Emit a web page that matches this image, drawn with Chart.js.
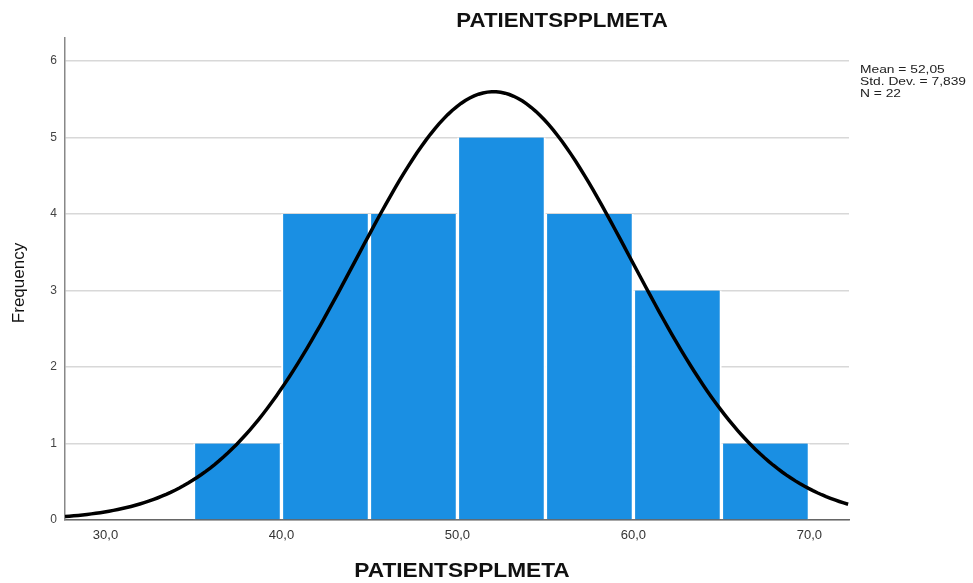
<!DOCTYPE html>
<html>
<head>
<meta charset="utf-8">
<script src="https://cdn.jsdelivr.net/npm/chart.js@4/dist/chart.umd.min.js"></script>
<style>
  html, body { margin: 0; padding: 0; background: #fff; }
  #wrap { width: 973px; height: 583px; position: relative; }
</style>
</head>
<body>
<div id="wrap"><canvas id="hist" width="973" height="583"></canvas></div>
<script>
// Histogram bins (lower edge .. upper edge) and their counts
const binStarts = [35, 40, 45, 50, 55, 60, 65];
const binWidth = 5;
const frequencies = [1, 4, 4, 5, 4, 3, 1];

// Summary statistics shown beside the plot
const meanVal = 52.05;
const sdVal = 7.839;
const nVal = 22;

// Axis settings
const xTicks = [30, 40, 50, 60, 70];
const xMin = 27.7;
const xMax = 72.25;
const yMax = 6.3;

const varName = 'PATIENTSPPLMETA';
const yTitle = 'Frequency';

const fmt = (v, d) => v.toFixed(d).replace('.', ',');

// Bars placed at bin centres on a linear axis
const barPoints = binStarts.map((s, i) => ({ x: s + binWidth / 2, y: frequencies[i] }));

// Fitted normal curve scaled to counts: N * binWidth * pdf(x)
const curvePoints = [];
for (let x = xMin; x <= xMax + 1e-9; x += 0.25) {
  const z = (x - meanVal) / sdVal;
  const pdf = Math.exp(-0.5 * z * z) / (sdVal * Math.sqrt(2 * Math.PI));
  curvePoints.push({ x: x, y: nVal * binWidth * pdf });
}

// Stretched text helper for the titles and the statistics block
function drawText(ctx, text, x, y, font, color, align, sx) {
  ctx.save();
  ctx.font = font;
  ctx.fillStyle = color;
  ctx.textBaseline = 'alphabetic';
  const w = ctx.measureText(text).width * sx;
  let left = x;
  if (align === 'center') left = x - w / 2;
  ctx.translate(left, y);
  ctx.scale(sx, 1);
  ctx.textAlign = 'left';
  ctx.fillText(text, 0, 0);
  ctx.restore();
}

const annotations = {
  id: 'annotations',
  afterDraw(chart) {
    const ctx = chart.ctx;
    drawText(ctx, varName, 562, 27, 'bold 21px Arial, "Liberation Sans", sans-serif', '#111', 'center', 1.06);
    drawText(ctx, varName, 462, 577, 'bold 21px Arial, "Liberation Sans", sans-serif', '#111', 'center', 1.08);

    ctx.save();
    ctx.translate(24, 283);
    ctx.rotate(-Math.PI / 2);
    ctx.font = '17px Arial, "Liberation Sans", sans-serif';
    ctx.fillStyle = '#111';
    ctx.textAlign = 'center';
    ctx.textBaseline = 'alphabetic';
    ctx.fillText(yTitle, 0, 0);
    ctx.restore();

    const stats = [
      'Mean = ' + fmt(meanVal, 2),
      'Std. Dev. = ' + fmt(sdVal, 3),
      'N = ' + nVal
    ];
    stats.forEach((t, i) => {
      drawText(ctx, t, 860, 73 + i * 12, '11.5px Arial, "Liberation Sans", sans-serif', '#222', 'left', 1.2);
    });
  }
};

new Chart(document.getElementById('hist'), {
  type: 'bar',
  data: {
    datasets: [
      {
        type: 'line',
        data: curvePoints,
        borderColor: '#000',
        borderWidth: 3.5,
        pointRadius: 0,
        fill: false,
        order: 0
      },
      {
        type: 'bar',
        data: barPoints,
        backgroundColor: '#1a8fe3',
        borderColor: '#ffffff',
        borderWidth: { left: 2, right: 2, top: 0, bottom: 0 },
        borderSkipped: false,
        categoryPercentage: 1,
        barPercentage: 1,
        order: 1
      }
    ]
  },
  options: {
    responsive: false,
    animation: false,
    layout: { padding: { top: 38, right: 124, left: 0, bottom: 0 } },
    plugins: {
      legend: { display: false },
      tooltip: { enabled: false },
      title: { display: false }
    },
    scales: {
      x: {
        type: 'linear',
        min: xMin,
        max: xMax,
        offset: false,
        afterBuildTicks: (scale) => { scale.ticks = xTicks.map(v => ({ value: v })); },
        afterFit: (scale) => { scale.height = 63; },
        grid: { display: false, drawTicks: false },
        border: { display: true, color: '#666', width: 1.5 },
        ticks: {
          padding: 8,
          maxRotation: 0,
          autoSkip: false,
          color: '#333',
          font: { family: 'Arial, "Liberation Sans", sans-serif', size: 13 },
          callback: (v) => fmt(v, 1)
        }
      },
      y: {
        min: 0,
        max: yMax,
        afterBuildTicks: (scale) => { scale.ticks = [0, 1, 2, 3, 4, 5, 6].map(v => ({ value: v })); },
        afterFit: (scale) => { scale.width = 65; },
        grid: { color: '#d8d8d8', lineWidth: 1.5, drawTicks: false },
        border: { display: true, color: '#888', width: 1.5 },
        ticks: {
          padding: 8,
          color: '#444',
          font: { family: 'Arial, "Liberation Sans", sans-serif', size: 12 }
        }
      }
    }
  },
  plugins: [annotations]
});
</script>
</body>
</html>
